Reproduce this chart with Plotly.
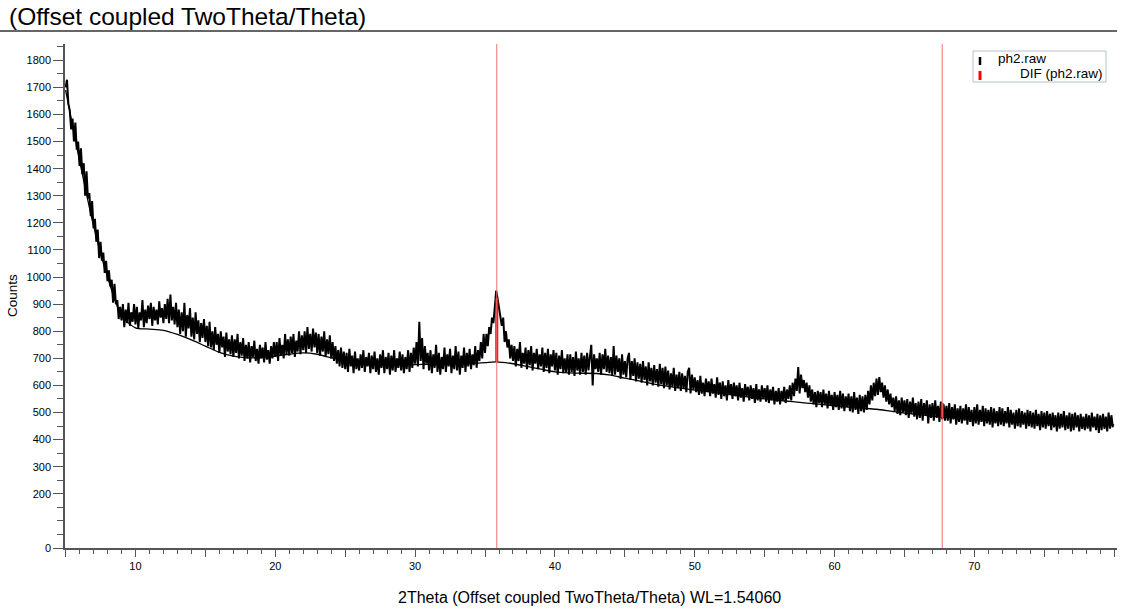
import plotly.graph_objects as go

# ---------------- data ----------------
two_theta_start = 5.0
two_theta_step = 0.1
# raw counts, one row per degree (x.0 ... x.9)
counts_rows = [
    [1700, 1728, 1640, 1615, 1545, 1585, 1500, 1570, 1470, 1500],  # 5
    [1410, 1475, 1380, 1420, 1300, 1390, 1290, 1310, 1225, 1280],  # 6
    [1180, 1215, 1130, 1175, 1070, 1130, 1060, 1090, 1015, 1060],  # 7
    [985, 1025, 965, 990, 905, 975, 900, 915, 845, 890],  # 8
    [840, 900, 815, 880, 830, 905, 820, 870, 835, 900],  # 9
    [825, 890, 810, 870, 840, 915, 815, 880, 830, 895],  # 10
    [845, 905, 820, 890, 840, 880, 825, 910, 850, 885],  # 11
    [830, 900, 845, 920, 830, 935, 840, 890, 825, 905],  # 12
    [815, 880, 790, 870, 800, 905, 780, 860, 810, 885],  # 13
    [780, 850, 770, 870, 790, 840, 760, 830, 775, 845],  # 14
    [760, 820, 745, 835, 740, 800, 730, 815, 750, 790],  # 15
    [720, 800, 740, 780, 705, 795, 725, 770, 715, 785],  # 16
    [705, 770, 720, 790, 700, 760, 710, 775, 690, 750],  # 17
    [700, 760, 685, 745, 705, 765, 690, 735, 680, 750],  # 18
    [700, 740, 685, 760, 695, 730, 680, 745, 700, 760],  # 19
    [705, 760, 690, 775, 710, 750, 700, 790, 715, 770],  # 20
    [710, 780, 720, 790, 705, 765, 725, 800, 715, 785],  # 21
    [730, 800, 720, 815, 735, 790, 725, 810, 740, 795],  # 22
    [720, 790, 710, 780, 725, 800, 705, 770, 715, 785],  # 23
    [700, 760, 690, 745, 680, 730, 670, 740, 665, 725],  # 24
    [660, 720, 650, 735, 670, 710, 645, 725, 660, 700],  # 25
    [655, 715, 665, 730, 650, 705, 670, 720, 645, 710],  # 26
    [660, 725, 650, 700, 640, 715, 665, 730, 645, 705],  # 27
    [660, 720, 640, 710, 655, 730, 650, 700, 665, 725],  # 28
    [655, 715, 645, 705, 660, 730, 650, 720, 665, 740],  # 29
    [680, 760, 670, 835, 690, 775, 660, 745, 680, 720],  # 30
    [655, 730, 645, 715, 665, 750, 650, 720, 640, 705],  # 31
    [660, 740, 650, 715, 670, 735, 645, 710, 660, 745],  # 32
    [655, 725, 640, 710, 665, 740, 650, 720, 670, 735],  # 33
    [660, 715, 675, 745, 665, 730, 690, 760, 700, 790],  # 34
    [720, 790, 745, 815, 790, 850, 830, 905, 950, 920],  # 35
    [880, 860, 820, 850, 760, 800, 740, 770, 700, 750],  # 36
    [690, 745, 670, 735, 690, 760, 665, 720, 680, 740],  # 37
    [660, 730, 675, 745, 655, 720, 680, 735, 660, 715],  # 38
    [670, 740, 650, 720, 665, 735, 645, 715, 670, 730],  # 39
    [655, 720, 640, 710, 660, 730, 645, 700, 650, 715],  # 40
    [640, 715, 650, 705, 635, 725, 655, 700, 640, 720],  # 41
    [650, 710, 640, 720, 655, 705, 750, 600, 715, 660],  # 42
    [700, 650, 720, 640, 715, 660, 735, 650, 710, 645],  # 43
    [705, 635, 745, 640, 710, 650, 700, 625, 715, 640],  # 44
    [690, 630, 700, 720, 620, 690, 635, 700, 615, 685],  # 45
    [625, 680, 610, 690, 620, 670, 600, 685, 615, 665],  # 46
    [600, 675, 610, 660, 595, 680, 605, 665, 590, 670],  # 47
    [600, 655, 585, 645, 595, 665, 580, 640, 590, 650],  # 48
    [580, 645, 590, 635, 575, 650, 665, 570, 640, 585],  # 49
    [630, 575, 620, 565, 635, 570, 610, 560, 625, 575],  # 50
    [615, 560, 625, 570, 605, 555, 630, 565, 610, 550],  # 51
    [615, 560, 600, 545, 620, 565, 605, 550, 610, 560],  # 52
    [600, 545, 610, 555, 590, 540, 605, 560, 595, 545],  # 53
    [600, 550, 590, 535, 605, 545, 585, 540, 600, 550],  # 54
    [590, 540, 600, 535, 585, 545, 595, 530, 580, 540],  # 55
    [590, 530, 580, 545, 595, 535, 585, 550, 600, 545],  # 56
    [610, 560, 625, 580, 668, 570, 640, 590, 620, 575],  # 57
    [610, 555, 600, 540, 585, 530, 575, 520, 580, 535],  # 58
    [575, 520, 585, 530, 570, 515, 580, 525, 565, 510],  # 59
    [575, 520, 565, 510, 580, 515, 570, 505, 560, 520],  # 60
    [570, 505, 560, 500, 575, 510, 555, 495, 565, 505],  # 61
    [560, 500, 565, 510, 580, 530, 600, 545, 610, 560],  # 62
    [625, 565, 631, 575, 610, 555, 600, 540, 585, 530],  # 63
    [570, 520, 555, 505, 560, 495, 545, 490, 555, 500],  # 64
    [545, 490, 550, 480, 540, 495, 555, 485, 535, 475],  # 65
    [540, 480, 550, 470, 535, 490, 545, 460, 530, 480],  # 66
    [535, 470, 545, 480, 525, 465, 540, 475, 530, 470],  # 67
    [525, 470, 535, 460, 520, 475, 530, 455, 515, 465],  # 68
    [525, 460, 515, 470, 530, 455, 520, 465, 510, 450],  # 69
    [520, 460, 530, 455, 510, 465, 525, 450, 515, 460],  # 70
    [510, 455, 520, 445, 515, 460, 505, 450, 520, 455],  # 71
    [515, 450, 505, 460, 520, 445, 510, 455, 500, 440],  # 72
    [510, 450, 515, 445, 505, 455, 500, 440, 510, 450],  # 73
    [505, 445, 500, 440, 510, 450, 495, 435, 505, 445],  # 74
    [500, 440, 505, 450, 495, 435, 500, 445, 490, 430],  # 75
    [500, 440, 495, 445, 505, 435, 490, 440, 500, 430],  # 76
    [495, 435, 500, 445, 490, 430, 495, 440, 485, 435],  # 77
    [495, 440, 490, 430, 500, 445, 485, 435, 495, 425],  # 78
    [490, 435, 495, 440, 485, 430, 500, 440, 490, 445],  # 79
]

# fitted background curve
bg_x = [5, 6, 7, 8, 9, 10, 11, 12, 13, 14, 15, 16, 17, 18, 19, 20, 21, 22, 23, 24,
        25, 26, 27, 28, 29, 30, 31, 32, 33, 34, 35, 35.8, 37, 38, 39, 40, 41, 42, 43,
        44, 45, 46, 47, 48, 49, 50, 51, 52, 53, 54, 55, 56, 57, 58, 59, 60, 61, 62,
        63, 64, 65, 66, 67, 68, 69, 70, 71, 72, 73, 74, 75, 76, 77, 78, 79, 80]
bg_y = [1690, 1430, 1190, 1000, 860, 812, 808, 803, 788, 768, 745, 722, 708, 702, 703,
        708, 715, 720, 715, 702, 690, 681, 677, 676, 676, 677, 678, 678, 679, 681, 684,
        687, 680, 670, 660, 650, 646, 645, 644, 638, 627, 617, 606, 597, 590, 583, 577,
        570, 563, 556, 550, 545, 540, 535, 530, 525, 520, 516, 512, 505, 498, 492, 487,
        482, 478, 474, 471, 468, 465, 463, 461, 459, 457, 456, 455, 454]

# DIF peak positions (2Theta) and stick extents (counts)
dif_pos = [35.84, 67.7]
dif_lo = [687, 482]
dif_hi = [922, 535]

y_tick_vals = [0, 200, 300, 400, 500, 600, 700, 800, 900, 1000, 1100, 1200, 1300,
               1400, 1500, 1600, 1700, 1800]
y_tick_text = [str(v) for v in y_tick_vals]
x_tick_vals = [5, 10, 15, 20, 25, 30, 35, 40, 45, 50, 55, 60, 65, 70, 75, 80]
x_tick_text = ["", "10", "", "20", "", "30", "", "40", "", "50", "", "60", "", "70", "", ""]

# ---------------- build ----------------
counts = [v for row in counts_rows for v in row]
two_theta = [round(two_theta_start + i * two_theta_step, 2) for i in range(len(counts))]

FONT = "Liberation Sans, Arial, sans-serif"
fig = go.Figure()

fig.add_trace(go.Scatter(x=two_theta, y=counts, mode="lines",
                         line=dict(color="black", width=2), showlegend=False,
                         name="ph2.raw"))
fig.add_trace(go.Scatter(x=bg_x, y=bg_y, mode="lines",
                         line=dict(color="black", width=1.3, shape="spline", smoothing=0.8),
                         showlegend=False, name="background"))

sx, sy = [], []
for p, lo, hi in zip(dif_pos, dif_lo, dif_hi):
    sx += [p, p, None]
    sy += [lo, hi, None]
fig.add_trace(go.Scatter(x=sx, y=sy, mode="lines", line=dict(color="#ff0000", width=3),
                         showlegend=False, name="DIF (ph2.raw)"))

shapes = []
for p in dif_pos:
    shapes.append(dict(type="line", xref="x", yref="paper", x0=p, x1=p, y0=0, y1=1,
                       line=dict(color="#f07070", width=1)))

L, R, T, B = 65, 4, 44, 64
W, H = 1121, 612
pw, ph = W - L - R, H - T - B


def px(xp):
    return (xp - L) / pw


def py(yp):
    return (H - B - yp) / ph


# title underline
shapes.append(dict(type="line", xref="paper", yref="paper", x0=px(0), x1=px(1117),
                   y0=py(31), y1=py(31), line=dict(color="#333", width=1.5)))
# legend box
shapes.append(dict(type="rect", xref="paper", yref="paper", x0=px(973), x1=px(1106),
                   y0=py(82), y1=py(51), line=dict(color="#b8c0cc", width=1),
                   fillcolor="white"))
shapes.append(dict(type="line", xref="paper", yref="paper", x0=px(980), x1=px(980),
                   y0=py(65), y1=py(57), line=dict(color="black", width=2.5)))
shapes.append(dict(type="line", xref="paper", yref="paper", x0=px(980), x1=px(980),
                   y0=py(80), y1=py(71), line=dict(color="red", width=3)))

annotations = [
    dict(text="ph2.raw", xref="paper", yref="paper", x=px(996), y=py(58.5),
         xanchor="left", yanchor="middle", showarrow=False,
         font=dict(family=FONT, size=13.5, color="black")),
    dict(text="DIF (ph2.raw)", xref="paper", yref="paper", x=px(1105), y=py(73.5),
         xanchor="right", yanchor="middle", showarrow=False,
         font=dict(family=FONT, size=13.5, color="black")),
    dict(text="2Theta (Offset coupled TwoTheta/Theta) WL=1.54060", xref="paper",
         yref="paper", x=px(589), y=py(597), xanchor="center", yanchor="middle",
         showarrow=False, font=dict(family=FONT, size=16, color="black")),
    dict(text="Counts", xref="paper", yref="paper", x=px(12), y=py(296),
         xanchor="center", yanchor="middle", textangle=-90, showarrow=False,
         font=dict(family=FONT, size=13.5, color="black")),
    dict(text="(Offset coupled TwoTheta/Theta)", xref="paper", yref="paper",
         x=px(7), y=py(17), xanchor="left", yanchor="middle", showarrow=False,
         font=dict(family=FONT, size=24.5, color="black")),
]

fig.update_layout(
    width=W, height=H,
    margin=dict(l=L, r=R, t=T, b=B),
    paper_bgcolor="white", plot_bgcolor="white",
    showlegend=False,
    shapes=shapes, annotations=annotations,
    xaxis=dict(range=[4.96, 80.2], tickvals=x_tick_vals, ticktext=x_tick_text,
               ticks="outside", ticklen=7, tickwidth=1.2, tickcolor="#555",
               showline=True, linecolor="#555", linewidth=1.5, showgrid=False,
               zeroline=False, tickfont=dict(family=FONT, size=11, color="black"),
               minor=dict(dtick=1, tick0=0, ticks="outside", ticklen=4,
                          tickcolor="#555", tickwidth=1.2, showgrid=False)),
    yaxis=dict(range=[0, 1860], tickvals=y_tick_vals, ticktext=y_tick_text,
               ticks="outside", ticklen=10, tickwidth=1.2, tickcolor="#555",
               showline=True, linecolor="#555", linewidth=1.5, showgrid=False,
               zeroline=False, tickfont=dict(family=FONT, size=11, color="black"),
               minor=dict(dtick=50, tick0=0, ticks="outside", ticklen=6,
                          tickcolor="#555", tickwidth=1.2, showgrid=False)),
)

fig.write_html("out.html")
